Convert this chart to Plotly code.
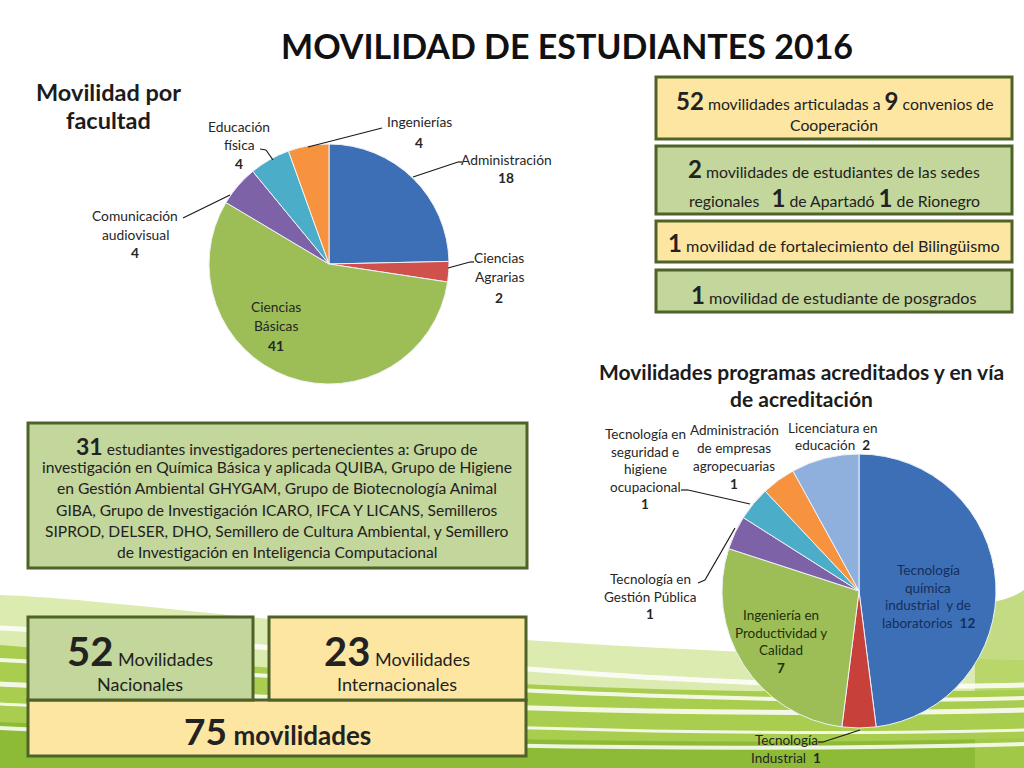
import plotly.graph_objects as go

# ---------------- DATA ----------------
fac_names = ["Administración", "Ciencias Agrarias", "Ciencias Básicas",
             "Comunicación audiovisual", "Educación física", "Ingenierías"]
fac_values = [18, 2, 41, 4, 4, 4]
fac_colors = ["#3D6FB6", "#D0504B", "#9DBE57", "#7E62A8", "#4BADC8", "#F7923F"]
fac_label_lines = [["Administración"], ["Ciencias", "Agrarias"], ["Ciencias", "Básicas"],
                   ["Comunicación", "audiovisual"], ["Educación", "física"], ["Ingenierías"]]

prog_names = ["Tecnología química industrial y de laboratorios", "Tecnología Industrial",
              "Ingeniería en Productividad y Calidad", "Tecnología en Gestión Pública",
              "Tecnología en seguridad e higiene ocupacional",
              "Administración de empresas agropecuarias", "Licenciatura en educación"]
prog_values = [12, 1, 7, 1, 1, 1, 2]
prog_colors = ["#3D6FB6", "#C8403A", "#9DBE57", "#7E62A8", "#4BADC8", "#F7923F", "#8FB0DD"]
prog_label_lines = [["Tecnología", "química", "industrial  y de", "laboratorios "],
                    ["Tecnología", "Industrial "],
                    ["Ingeniería en", "Productividad y", "Calidad"],
                    ["Tecnología en", "Gestión Pública"],
                    ["Tecnología en", "seguridad e", "higiene", "ocupacional"],
                    ["Administración", "de empresas", "agropecuarias"],
                    ["Licenciatura en", "educación "]]
prog_value_inline = [True, True, False, False, False, False, True]

total_mov = 75
nacionales = 52
internacionales = 23
convenio_mov = 52
convenios = 9
sedes_mov = 2
apartado = 1
rionegro = 1
bilinguismo = 1
posgrado = 1
investigadores = 31

FONT = "Lato"
W, H = 1024, 768


def X(px):
    return px / W


def Y(py):
    return 1 - py / H


fig = go.Figure()

fig.add_trace(go.Pie(
    labels=fac_names, values=fac_values, sort=False, direction="clockwise", rotation=0,
    marker=dict(colors=fac_colors, line=dict(color="#EEF2F8", width=1)),
    textinfo="none", hoverinfo="label+value", showlegend=False,
    domain=dict(x=[X(209), X(449)], y=[Y(384), Y(144)])))

fig.add_trace(go.Pie(
    labels=prog_names, values=prog_values, sort=False, direction="clockwise", rotation=0,
    marker=dict(colors=prog_colors, line=dict(color="#EEF2F8", width=1)),
    textinfo="none", hoverinfo="label+value", showlegend=False,
    domain=dict(x=[X(722), X(996)], y=[Y(728), Y(454)])))

shapes = []
annotations = []


def bg_path(d, fill=None, line=None, lw=0, opacity=1.0):
    s = ""
    for cmd, pts in d:
        s += cmd + " ".join(f"{X(a):.4f},{Y(b):.4f}" for a, b in pts) + " "
    if fill:
        s += "Z"
    shp = dict(type="path", xref="paper", yref="paper", path=s.strip(), layer="below",
               opacity=opacity)
    shp["fillcolor"] = fill if fill else "rgba(0,0,0,0)"
    shp["line"] = dict(color=line if line else "rgba(0,0,0,0)", width=lw)
    shapes.append(shp)


# background green swooshes
bg_path([("M", [(0, 595)]), ("C", [(150, 600), (420, 650), (1024, 660)]),
         ("L", [(1024, 768)]), ("L", [(0, 768)])], fill="#DCEBB0")
bg_path([("M", [(0, 645)]), ("C", [(250, 665), (550, 700), (1024, 690)]),
         ("L", [(1024, 768)]), ("L", [(0, 768)])], fill="#A9CD4E")
bg_path([("M", [(0, 722)]), ("C", [(300, 735), (650, 748), (1024, 738)]),
         ("L", [(1024, 768)]), ("L", [(0, 768)])], fill="#8DBB35")
bg_path([("M", [(975, 600)]), ("C", [(995, 605), (1012, 598), (1024, 590)]),
         ("L", [(1024, 768)]), ("L", [(975, 768)])], fill="#A9CD4E", opacity=0.7)
for y0, y1, wdt in [(628, 695, 5), (660, 708, 4), (684, 720, 5), (704, 740, 3), (728, 754, 4)]:
    bg_path([("M", [(0, y0)]), ("C", [(300, y0 + 15), (650, y1), (1024, y1 - 10)])],
            line="rgba(255,255,255,0.85)", lw=wdt)


def line_shape(pts, color="#1a1a1a", width=1.2):
    for (a, b), (c, d) in zip(pts[:-1], pts[1:]):
        shapes.append(dict(type="line", xref="paper", yref="paper",
                           x0=X(a), y0=Y(b), x1=X(c), y1=Y(d),
                           line=dict(color=color, width=width), layer="above"))


def box(x0, y0, x1, y1, fill):
    shapes.append(dict(type="rect", xref="paper", yref="paper",
                       x0=X(x0), y0=Y(y1), x1=X(x1), y1=Y(y0),
                       fillcolor=fill, line=dict(color="#4F6228", width=3), layer="above"))


def txt(px, py, text, size=13, color="#222222", xanchor="center"):
    annotations.append(dict(x=X(px), y=Y(py), xref="paper", yref="paper", text=text,
                            showarrow=False, xanchor=xanchor, yanchor="middle",
                            font=dict(family=FONT, size=size, color=color)))


def label_block(px, py0, lines, value, inline, spacing, size, color="#262626"):
    lines = list(lines)
    if inline:
        lines[-1] = lines[-1] + f" <b>{value}</b>"
    else:
        lines.append(f"<b>{value}</b>")
    for i, ln in enumerate(lines):
        txt(px, py0 + i * spacing, ln, size=size, color=color)


YEL = "#FDE6A2"
GRN = "#C3D69B"

# title
txt(567, 45, "<b>MOVILIDAD DE ESTUDIANTES 2016</b>", size=34, color="#111111")
txt(108, 92, "<b>Movilidad por</b>", size=23.5, color="#1c1c1c")
txt(108, 120, "<b>facultad</b>", size=23.5, color="#1c1c1c")

# pie 1 labels
fac_pos = [(506, 159, 18), (499, 257, 20), (276, 306, 19.5), (135, 215, 19), (239, 126, 18.5), (419, 122, 20)]
for (px, py, sp), lines, v in zip(fac_pos, fac_label_lines, fac_values):
    label_block(px, py, lines, v, False, sp, 13.8)

line_shape([(413, 177), (458, 162), (462, 162)])
line_shape([(448, 268), (470, 262), (474, 262)])
line_shape([(183, 218), (230, 195)])
line_shape([(260, 149), (266, 150), (273, 160)])
line_shape([(308, 147), (382, 128)])

# pie 2 title
txt(801, 371, "<b>Movilidades programas acreditados y en vía</b>", size=21, color="#1c1c1c")
txt(801, 398, "<b>de acreditación</b>", size=21, color="#1c1c1c")

prog_pos = [(928, 570, 17.5), (786, 740, 17.5), (781, 615, 17.5), (650, 579, 17.5),
            (645, 434, 17.5), (734, 430, 18), (832, 428, 16.5)]
prog_text_colors = ["#142E5C", "#262626", "#22300C", "#262626", "#262626", "#262626", "#262626"]
for (px, py, sp), lines, v, inl, col in zip(prog_pos, prog_label_lines, prog_values,
                                             prog_value_inline, prog_text_colors):
    label_block(px, py, lines, v, inl, sp, 13.5, color=col)

line_shape([(860, 730), (823, 742), (818, 742)])
line_shape([(698, 583), (705, 580), (735, 528)])
line_shape([(681, 490), (688, 490), (750, 504)])

B = "<span style='font-size:24px'><b>{}</b></span>"

# right boxes
box(656, 77, 1012, 139, YEL)
txt(834, 100, B.format(convenio_mov) + " movilidades articuladas a " + B.format(convenios)
    + " convenios de", size=15.8)
txt(834, 124, "Cooperación", size=15.8)

box(656, 146, 1012, 214, GRN)
txt(834, 168, B.format(sedes_mov) + " movilidades de estudiantes de las sedes", size=15.8)
txt(834, 197, "regionales   " + B.format(apartado) + " de Apartadó " + B.format(rionegro)
    + " de Rionegro", size=15.8)

box(656, 221, 1012, 262, YEL)
txt(834, 242, B.format(bilinguismo) + " movilidad de fortalecimiento del Bilingüismo", size=16.2)

box(656, 270, 1012, 312, GRN)
txt(834, 294, B.format(posgrado) + " movilidad de estudiante de posgrados", size=16.2)

# left research box
box(28, 423, 527, 568, GRN)
res_lines = [
    f"<span style='font-size:23px'><b>{investigadores}</b></span> estudiantes investigadores pertenecientes a: Grupo de",
    "investigación en Química Básica y aplicada QUIBA, Grupo de Higiene",
    "en Gestión Ambiental GHYGAM, Grupo de Biotecnología Animal",
    "GIBA, Grupo de Investigación ICARO, IFCA Y LICANS, Semilleros",
    "SIPROD, DELSER, DHO, Semillero de Cultura Ambiental, y Semillero",
    "de Investigación en Inteligencia Computacional",
]
for i, ln in enumerate(res_lines):
    txt(277, 446 + i * 21.2, ln, size=15.6)

# bottom boxes
box(28, 700, 526, 756, YEL)
box(28, 617, 253, 700, GRN)
box(269, 617, 526, 700, YEL)
txt(140, 651, f"<span style='font-size:40px'><b>{nacionales}</b></span> Movilidades", size=18)
txt(140, 684, "Nacionales", size=18)
txt(397, 651, f"<span style='font-size:40px'><b>{internacionales}</b></span> Movilidades", size=18)
txt(397, 684, "Internacionales", size=18)
txt(277, 730, f"<span style='font-size:37px'><b>{total_mov}</b></span> <b>movilidades</b>", size=26)

fig.update_layout(
    width=W, height=H, margin=dict(l=0, r=0, t=0, b=0),
    paper_bgcolor="white", plot_bgcolor="white",
    shapes=shapes, annotations=annotations, showlegend=False,
    font=dict(family=FONT),
)

fig.write_html("out.html", config={"displayModeBar": False},
               post_script="document.body.style.margin='0';document.body.style.overflow='hidden';")
